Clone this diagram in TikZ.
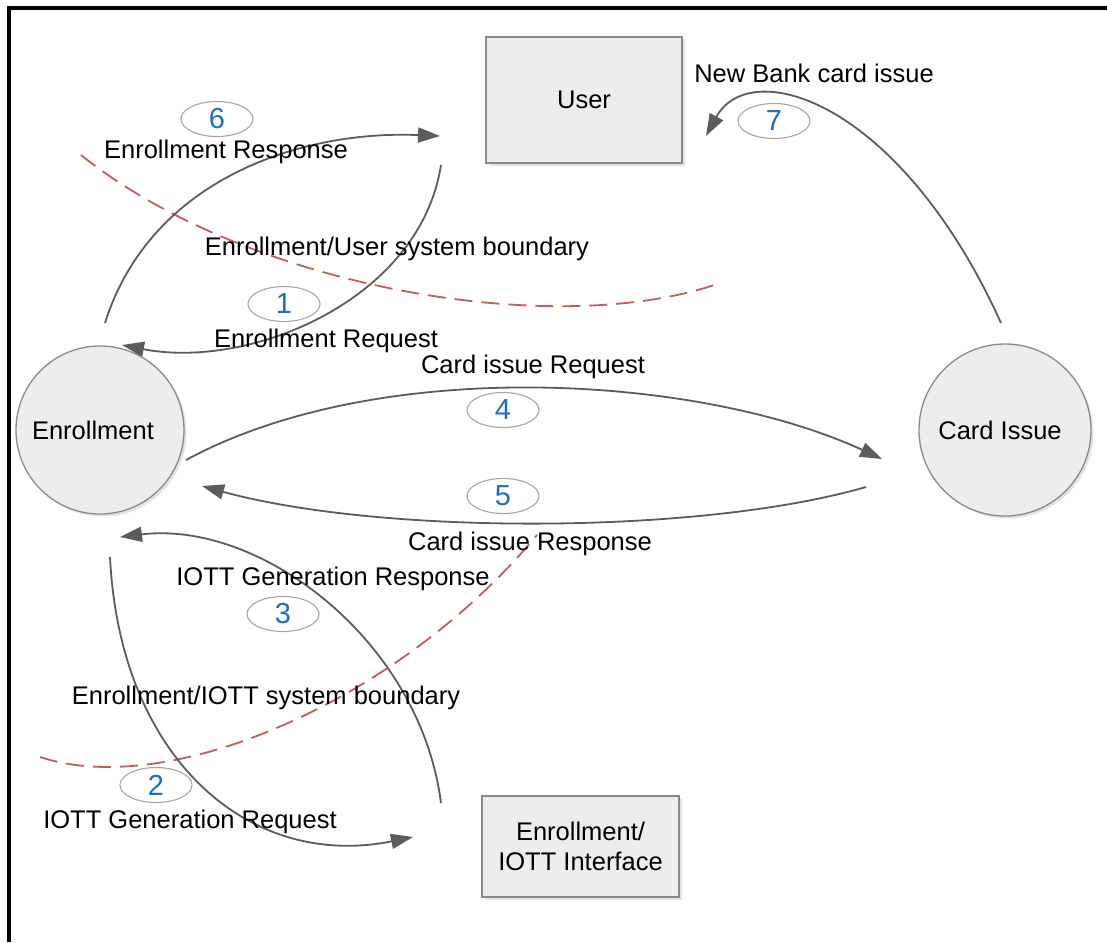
\documentclass[tikz,border=0pt]{standalone}
\usepackage{fontspec}
\setmainfont{Liberation Sans}
\usetikzlibrary{arrows.meta,shapes.geometric,shadows}

\definecolor{flow}{HTML}{5C5C5C}
\definecolor{bound}{HTML}{C95A5A}
\definecolor{numblue}{HTML}{1A6FCB}
\definecolor{boxfill}{HTML}{EDEDED}
\definecolor{boxline}{HTML}{8A8A8A}

\begin{document}
\begin{tikzpicture}[x=1pt,y=-1pt,
  font=\fontsize{25.5}{30}\selectfont,
  softshadow/.style={drop shadow={opacity=0.22,shadow xshift=2.5pt,shadow yshift=-2.5pt}},
  process/.style={circle,draw=boxline,line width=1.3pt,fill=boxfill,
    minimum size=168pt,inner sep=0pt,softshadow},
  entity/.style={rectangle,draw=boxline,line width=1.5pt,fill=boxfill,
    inner sep=0pt,align=center,softshadow},
  flowarrow/.style={draw=flow,line width=1.8pt,
    -{Triangle[length=22pt,width=15pt]}},
  boundary/.style={draw=bound,line width=1.8pt,dash pattern=on 18pt off 9pt},
  seq/.style={ellipse,draw=gray!70,line width=1.1pt,minimum width=72pt,
    minimum height=35pt,inner sep=0pt,text=numblue,
    font=\fontsize{29}{30}\selectfont},
  lbl/.style={inner sep=0pt,anchor=base,text=black}]

\useasboundingbox (0,0) rectangle (1107,942);

% cropped frame: top and left edges only
\draw[line width=4.5pt] (9,942) -- (9,8) -- (1107,8);

% external entities and processes
\node[entity,minimum width=196pt,minimum height=126pt] (user) at (584,100) {User};
\node[entity,minimum width=197pt,minimum height=101pt] (iott) at (580.5,846.5)
  {Enrollment/\\IOTT Interface};
\node[process] (enr) at (100,430) {};
\node at (93,430) {Enrollment};
\node[process,minimum size=172pt] (card) at (1005,430) {};
\node at (1000,430) {Card Issue};

% end points of the flows
\coordinate (e6s) at (105,323);
\coordinate (e6t) at (440,136);
\coordinate (e1s) at (441,165);
\coordinate (e1t) at (122,345);
\coordinate (e7s) at (1001,323);
\coordinate (e7t) at (706,136);
\coordinate (e4s) at (186,460);
\coordinate (e4t) at (882,459);
\coordinate (e5s) at (866,487);
\coordinate (e5t) at (202,486);
\coordinate (e3s) at (441,803);
\coordinate (e3t) at (120,537);
\coordinate (e2s) at (110,557);
\coordinate (e2t) at (413,837);

% system boundaries
\coordinate (b1s) at (81,155);
\coordinate (b1e) at (720,283);
\coordinate (b2s) at (40,757);
\coordinate (b2e) at (537,535);
\draw[boundary] (b1s) .. controls (250,290) and (560,340) .. (b1e);
\draw[boundary] (b2s) .. controls (170,800) and (400,700) .. (b2e);

% data flows
\draw[flowarrow] (e6s) .. controls (150,180) and (300,130) .. (e6t);
\draw[flowarrow] (e1s) .. controls (420,300) and (250,370) .. (e1t);
\draw[flowarrow] (e7s) .. controls (900,100) and (750,55) .. (e7t);
\draw[flowarrow] (e4s) .. controls (380,355) and (700,375) .. (e4t);
\draw[flowarrow] (e5s) .. controls (700,535) and (380,535) .. (e5t);
\draw[flowarrow] (e3s) .. controls (420,640) and (260,520) .. (e3t);
\draw[flowarrow] (e2s) .. controls (120,760) and (250,870) .. (e2t);

% sequence numbers
\node[seq] (n6) at (217,119) {6};
\node[seq] (n1) at (284,304) {1};
\node[seq] (n7) at (774,121) {7};
\node[seq] (n4) at (503,410) {4};
\node[seq] (n5) at (503,496) {5};
\node[seq] (n3) at (283,614) {3};
\node[seq] (n2) at (156,785) {2};

% flow and boundary labels
\node[lbl] (l6) at (226,158) {Enrollment Response};
\node[lbl] (lb1) at (397,255) {Enrollment/User system boundary};
\node[lbl] (l1) at (326,347) {Enrollment Request};
\node[lbl] (l4) at (533,373) {Card issue Request};
\node[lbl] (l5) at (530,550) {Card issue Response};
\node[lbl] (l3) at (333,585) {IOTT Generation Response};
\node[lbl] (lb2) at (266,704) {Enrollment/IOTT system boundary};
\node[lbl] (l2) at (190,828) {IOTT Generation Request};
\node[lbl] (l7) at (814,82) {New Bank card issue};
\end{tikzpicture}
\end{document}
